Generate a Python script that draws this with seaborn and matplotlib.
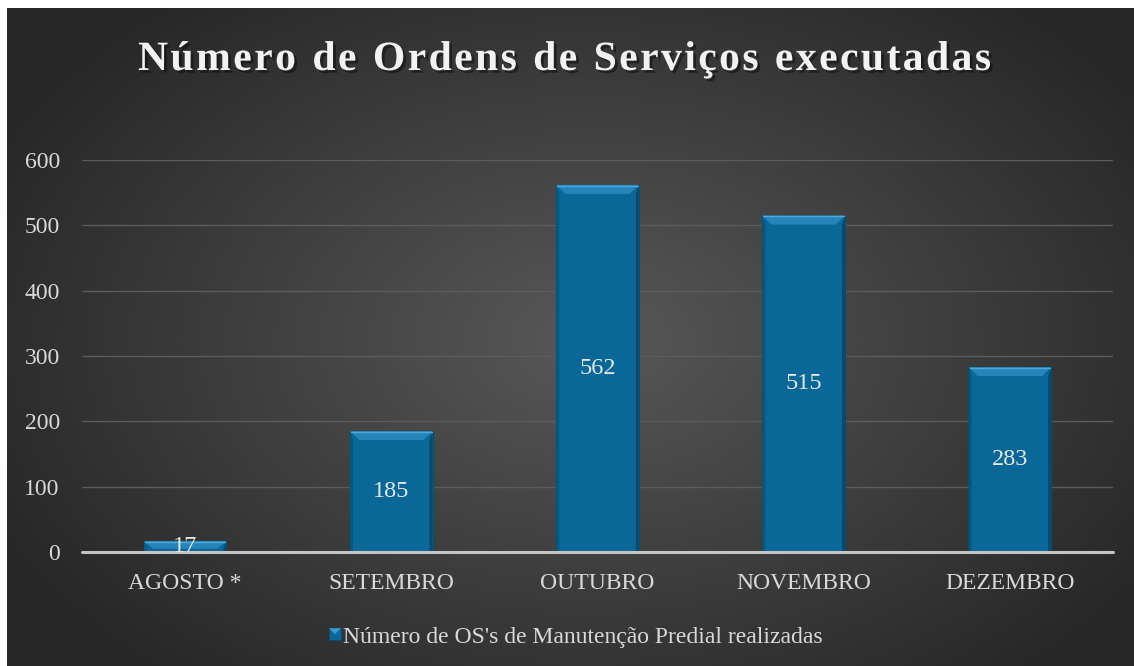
import numpy as np
import pandas as pd
import matplotlib
matplotlib.use("Agg")
import matplotlib.pyplot as plt
import matplotlib.patheffects as pe
import seaborn as sns
from matplotlib.patches import Polygon, Rectangle
from matplotlib.legend_handler import HandlerPatch

# ---- data ----
meses = ["AGOSTO *", "SETEMBRO", "OUTUBRO", "NOVEMBRO", "DEZEMBRO"]
ordens = [17, 185, 562, 515, 283]
serie = "Número de OS's de Manutenção Predial realizadas"
titulo = "Número de Ordens de Serviços executadas"
yticks = [0, 100, 200, 300, 400, 500, 600]

df = pd.DataFrame({"mes": meses, "ordens": ordens})

sns.set_theme(style="dark")
plt.rcParams["font.family"] = ["Liberation Serif", "DejaVu Serif"]

W, H = 1134, 666
fig = plt.figure(figsize=(W / 100, H / 100), dpi=100, facecolor="white")

# ---- radial dark background ----
bg = fig.add_axes([7 / W, 0, 1 - 7 / W, 1 - 8 / H], zorder=0)
ny, nx = 330, 560
yy, xx = np.mgrid[0:ny, 0:nx]
px = 7 + xx / (nx - 1) * (W - 7)
py = 8 + yy / (ny - 1) * (H - 8)
r = np.sqrt(((px - 590) / 660) ** 2 + ((py - 340) / 440) ** 2)
v = np.clip(0.345 - 0.19 * r, 0.155, 1)
bg.imshow(np.dstack([v, v, v]), aspect="auto", extent=[0, 1, 0, 1], interpolation="bilinear")
bg.axis("off")

# ---- main axes ----
ax = fig.add_axes([82 / W, (H - 552) / H, (1113 - 82) / W, (552 - 160) / H], zorder=1)
ax.set_facecolor("none")

bar_color = "#0a6898"
sns.barplot(data=df, x="mes", y="ordens", ax=ax, color=bar_color, saturation=1,
            width=0.40, edgecolor="#0b4c6e", linewidth=0.8, zorder=3)

ax.set_ylim(0, 600)
ax.set_xlim(-0.5, len(meses) - 0.5)
ax.set_yticks(yticks)
ax.yaxis.grid(True, color="#5c5c5c", lw=1, zorder=0)
ax.xaxis.grid(False)
for s in ax.spines.values():
    s.set_visible(False)
ax.axhline(0, color="#c4c4c4", lw=2.2, zorder=5, clip_on=False)
ax.set_xlabel("")
ax.set_ylabel("")
ax.tick_params(axis="y", colors="#d9d9d9", labelsize=17, pad=16, length=0)
ax.tick_params(axis="x", colors="#d9d9d9", labelsize=17, pad=15, length=0)
for lab in ax.get_xticklabels() + ax.get_yticklabels():
    lab.set_color("#d9d9d9")

# ---- bevel shading on bars ----
fig.canvas.draw()
p0 = ax.transData.transform((0, 0))
p1 = ax.transData.transform((1, 100))
sx = p1[0] - p0[0]
sy = (p1[1] - p0[1]) / 100
for patch in ax.patches:
    x0, w, h = patch.get_x(), patch.get_width(), patch.get_height()
    bx = 9 / sx
    by = min(9 / sy, h * 0.7)
    sbx = 3 / sx
    # darker side strips
    ax.add_patch(Polygon([(x0, h), (x0 + sbx, h - by), (x0 + sbx, 0), (x0, 0)],
                         closed=True, fc="#08577f", ec="none", zorder=4))
    ax.add_patch(Polygon([(x0 + w, h), (x0 + w - sbx, h - by), (x0 + w - sbx, 0), (x0 + w, 0)],
                         closed=True, fc="#064a6c", ec="none", zorder=4))
    # bright top bevel
    ax.add_patch(Polygon([(x0, h), (x0 + w, h), (x0 + w - bx, h - by), (x0 + bx, h - by)],
                         closed=True, fc="#2585ba", ec="none", zorder=4))
    ax.plot([x0 + 1 / sx, x0 + w - 1 / sx], [h - 0.8 / sy] * 2, color="#4fa8d8", lw=1, zorder=4)

ax.bar_label(ax.containers[0], label_type="center", color="#e6e6e6", fontsize=17.5, zorder=6)

# ---- legend ----
class BevelHandler(HandlerPatch):
    def create_artists(self, legend, orig_handle, xdescent, ydescent, width, height, fontsize, trans):
        s = min(width, height)
        x = -xdescent + (width - s) / 2
        y = -ydescent + (height - s) / 2
        base = Rectangle((x, y), s, s, fc="#0a6898", ec="#0b4c6e", lw=0.5, transform=trans)
        top = Polygon([(x, y + s), (x + s, y + s), (x + s * 0.5, y + s * 0.5)], closed=True,
                      fc="#3a9ad0", ec="none", transform=trans)
        return [base, top]

handle = Rectangle((0, 0), 1, 1, fc=bar_color)
fig.legend([handle], [serie], loc="center", bbox_to_anchor=(576 / W, (H - 637) / H),
           frameon=False, fontsize=17, labelcolor="#d9d9d9", handlelength=0.5,
           handleheight=0.5, handletextpad=0.1, handler_map={Rectangle: BevelHandler()})

# ---- letter-spaced title with soft shadow ----
renderer = fig.canvas.get_renderer()
tsize = 30
left_px, right_px, base_px = 138, 991, H - 70
widths = []
for ch in titulo:
    t = fig.text(0, 0, ch if ch != " " else "n", fontsize=tsize, fontweight="bold")
    bb = t.get_window_extent(renderer)
    widths.append(bb.width if ch != " " else bb.width * 0.5)
    t.remove()
gap = (right_px - left_px - sum(widths)) / (len(titulo) - 1)
shadow = [pe.SimplePatchShadow(offset=(2, -2), shadow_rgbFace="#0d0d0d", alpha=0.55),
          pe.Normal()]
xpos = left_px
for ch, wch in zip(titulo, widths):
    if ch != " ":
        fig.text(xpos / W, base_px / H, ch, fontsize=tsize, fontweight="bold",
                 color="#f2f2f2", va="baseline", ha="left", path_effects=shadow)
    xpos += wch + gap

fig.savefig("out.png", dpi=100, facecolor=fig.get_facecolor())
